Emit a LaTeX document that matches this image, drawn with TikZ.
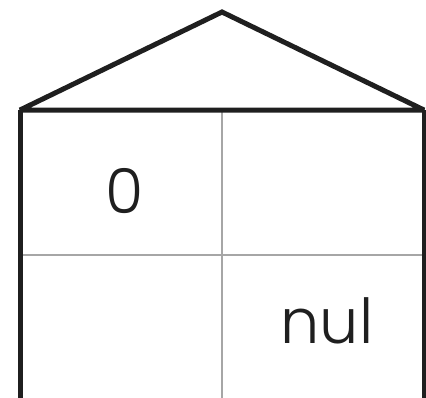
\documentclass[tikz,border=0pt]{standalone}
\usepackage{fontspec}
\setmainfont{Poppins Light}

\begin{document}
\begin{tikzpicture}[x=1pt,y=-1pt,
    wall/.style={line width=5pt,color=black!88},
    grid/.style={line width=1.4pt,color=black!35},
    cell/.style={font=\fontsize{62}{62}\selectfont,text=black!88,inner sep=0pt,anchor=base}]

    \useasboundingbox (0,0) rectangle (426,397);

    \coordinate (apex) at (222,12);
    \coordinate (left) at (20,110);
    \coordinate (right) at (424,110);
    \coordinate (left_b) at (20,400);
    \coordinate (right_b) at (424,400);
    \coordinate (mid_t) at (222,110);
    \coordinate (mid_b) at (222,400);
    \coordinate (row_l) at (20,255);
    \coordinate (row_r) at (424,255);

    % inner grid
    \draw[grid] (mid_t) -- (mid_b);
    \draw[grid] (row_l) -- (row_r);

    % roof and walls
    \draw[wall,line join=miter,miter limit=2.5] (left) -- (apex) -- (right) -- cycle;
    \draw[wall] (left) -- (left_b);
    \draw[wall] (right) -- (right_b);

    % cell entries
    \node[cell] (zero) at (125,213) {0};
    \node[cell] (nul) at (327,343) {nul};

\end{tikzpicture}
\end{document}
